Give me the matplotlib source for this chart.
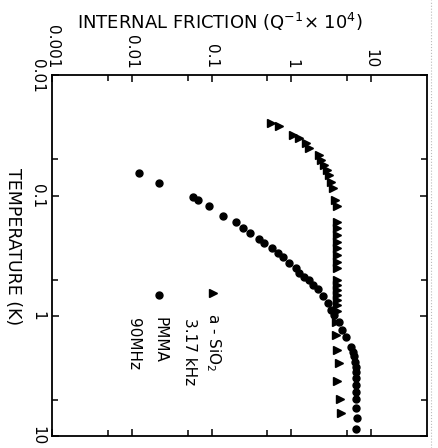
import matplotlib
matplotlib.use('Agg')
import matplotlib.pyplot as plt
from matplotlib.lines import Line2D

plt.rcParams['font.family'] = ['DejaVu Sans']

# a-SiO2, 3.17 kHz : temperature (K), internal friction (Q^-1 x 10^4)
sio2_T = [0.025, 0.0263, 0.0313, 0.0333, 0.0366, 0.0403, 0.0459, 0.0505, 0.0556,
          0.0611, 0.0673, 0.0765, 0.0868, 0.109, 0.123,
          0.165, 0.187, 0.212, 0.241, 0.274, 0.311, 0.354, 0.402,
          0.503, 0.553, 0.609, 0.670, 0.737, 0.812, 0.910,
          1.12, 1.44, 1.92, 2.45, 3.46, 4.94, 6.46]
sio2_Q = [0.557, 0.708, 1.04, 1.26, 1.53, 1.68, 2.24, 2.35, 2.59,
          2.76, 2.93, 3.13, 3.28, 3.55, 3.68,
          3.74, 3.76, 3.76, 3.76, 3.76, 3.76, 3.76, 3.76,
          3.76, 3.76, 3.76, 3.76, 3.76, 3.76, 3.76,
          3.65, 3.63, 3.76, 3.90, 3.76, 4.06, 4.18]

# PMMA, 90 MHz
pmma_T = [0.0644, 0.078, 0.102, 0.109, 0.123, 0.148, 0.165, 0.187, 0.205, 0.231,
          0.246, 0.274, 0.298, 0.325, 0.361, 0.402, 0.442, 0.475, 0.503, 0.553,
          0.597, 0.683, 0.781, 0.893, 0.984, 1.12, 1.31, 1.49, 1.80, 1.99,
          2.18, 2.40, 2.65, 2.91, 3.30, 3.76, 4.27, 4.94, 5.87, 7.11, 8.78]
pmma_Q = [0.0123, 0.0219, 0.0583, 0.0674, 0.0926, 0.141, 0.200, 0.246, 0.307, 0.398,
          0.460, 0.574, 0.674, 0.778, 0.944, 1.145, 1.26, 1.45, 1.68, 1.85,
          2.13, 2.46, 2.84, 3.13, 3.45, 3.98, 4.25, 4.83, 5.57, 5.84,
          6.01, 6.25, 6.44, 6.55, 6.55, 6.55, 6.55, 6.44, 6.55, 6.74, 6.55]

q_ticks = [0.001, 0.01, 0.1, 1, 10]
q_labels = ['0.001', '0.01', '0.1', '1', '10']
q_minor = [0.005, 0.05, 0.5, 5]
t_ticks = [0.01, 0.1, 1, 10]
t_labels = ['0.01', '0.1', '1', '10']
t_minor = [0.05, 0.5, 5]

fig = plt.figure(figsize=(4.39, 4.48), dpi=100)
ax = fig.add_axes([0.1185, 0.0268, 0.854, 0.8047])

# the figure is printed turned on its side: friction runs across, temperature runs down
ax.plot(sio2_Q, sio2_T, '>', color='black', markersize=5.5, linestyle='none')
ax.plot(pmma_Q, pmma_T, 'o', color='black', markersize=5, linestyle='none')

ax.set_xscale('log')
ax.set_yscale('log')
ax.set_xlim(0.001, 50)
ax.set_ylim(10, 0.01)

ax.set_xticks(q_ticks, q_labels)
ax.set_xticks(q_minor, minor=True)
ax.set_yticks(t_ticks, t_labels)
ax.set_yticks(t_minor, minor=True)
ax.xaxis.set_minor_formatter(plt.NullFormatter())
ax.yaxis.set_minor_formatter(plt.NullFormatter())

ax.tick_params(which='both', direction='in', top=True, bottom=True, left=True, right=True,
               labeltop=True, labelbottom=False, width=1.1)
ax.tick_params(which='major', length=5, pad=5, labelsize=11)
ax.tick_params(which='minor', length=4)
for lab in ax.get_xticklabels():
    lab.set_rotation(-90)
for lab in ax.get_yticklabels():
    lab.set_rotation(-90)
    lab.set_va('center')
for s in ax.spines.values():
    s.set_linewidth(1.3)

fig.text(220 / 439, 1 - 22 / 448, 'INTERNAL FRICTION (Q$^{-1}$\u00d7 10$^{4}$)',
         ha='center', va='center', fontsize=13)
fig.text(13 / 439, 1 - 247 / 448, 'TEMPERATURE (K)', rotation=-90,
         ha='center', va='center', fontsize=12.5)

# hand-made legend
ax.plot([0.429], [0.397], '>', color='black', markersize=5.5, transform=ax.transAxes)
ax.text(0.429, 0.341, 'a - SiO$_2$', rotation=-90, ha='center', va='top',
        fontsize=11, transform=ax.transAxes)
ax.text(0.368, 0.327, '3.17 kHz', rotation=-90, ha='center', va='top',
        fontsize=11, transform=ax.transAxes)
ax.plot([0.286], [0.391], 'o', color='black', markersize=5, transform=ax.transAxes)
ax.text(0.288, 0.330, 'PMMA', rotation=-90, ha='center', va='top',
        fontsize=11, transform=ax.transAxes)
ax.text(0.216, 0.327, '90MHz', rotation=-90, ha='center', va='top',
        fontsize=11, transform=ax.transAxes)

# faint dotted scan edge on the right
fig.add_artist(Line2D([431 / 439, 431 / 439], [0.0, 1.0], color='#bbbbbb',
                      linewidth=0.8, linestyle=':'))

fig.savefig('out.png', dpi=100)
